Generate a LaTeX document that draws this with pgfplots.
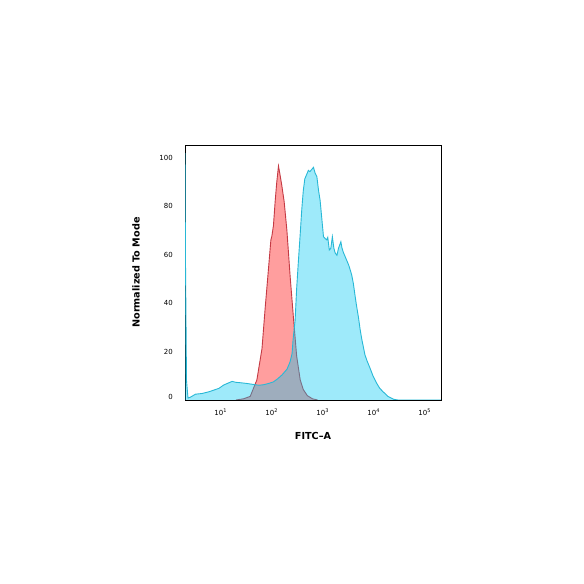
\documentclass[border=0pt]{standalone}
\usepackage{fontspec}
\setmainfont{DejaVu Sans}
\usepackage{pgfplots}
\usepackage{pgfplotstable}
\pgfplotsset{compat=1.18}
\definecolor{redfill}{RGB}{255,158,158}
\definecolor{redline}{RGB}{196,58,68}
\definecolor{bluefill}{RGB}{0,200,242}
\definecolor{blueline}{RGB}{40,184,214}
\pgfplotstableread{
x y
20 0
28.2 0.5
38 1.5
51.3 8.3
64.6 21.2
74.6 38
87.1 54.8
96.6 66.2
100.9 67.7
108.4 72.1
117.5 82.5
125.9 90
136.1 96.7
147.9 92.4
158.5 88.5
175.8 82
198.6 70.3
213.8 60.8
230.7 50.9
267.3 34
309 18.2
363.1 8.3
416.9 4.3
501.2 1.8
631 0.5
794 0
}\redtab
\pgfplotstableread{
x y
2.0 102
2.04 60
2.14 8
2.29 0.8
2.57 1.2
3.21 2.4
4.34 2.7
5.89 3.4
7.36 4.1
9.23 4.8
11.48 6.2
14.45 7.1
16.79 7.7
19.95 7.3
22.9 7.2
30.9 6.9
41.7 6.5
56.2 6.1
69.2 6.3
89.1 6.9
108.4 7.5
131.8 8.8
158.5 10.3
199.5 12.7
229.1 15.7
251.2 19.2
263 25
288.4 33
309 46
331.1 56
363.1 68.7
389 78.6
416.9 86.5
446.7 91.4
489.8 93.4
524.8 94.9
562.3 94.4
616.6 95.4
660.7 96.2
707.9 93.9
769.1 92.4
831.8 86.5
891.3 82.5
966 74.6
1038 67.5
1122 66.7
1202 66.2
1259 67.2
1349 62
1445 62.7
1549 67.5
1660 62.7
1758 60.8
1905 59.8
2042 62.7
2275 65.4
2399 62.7
2570 60.8
2884 58.3
3236 55.8
3467 53.8
3715 51.6
3981 48.4
4266 43.9
4571 39.5
5012 34.4
5433 29.1
5888 24.8
6310 21.7
6761 18.6
7413 16.2
8511 13.1
9772 9.8
11482 6.9
13183 4.8
15488 3.3
19055 1.5
24547 0.3
30000 0
208930 0
}\bluetab
\begin{document}
\begin{tikzpicture}
\fill[white] (0,0) rectangle (584bp,584bp);
\useasboundingbox (0,0) rectangle (584bp,584bp);
\begin{axis}[
  at={(185bp,184bp)}, anchor=south west,
  width=256bp, height=255bp, scale only axis,
  xmode=log, xmin=2.0, xmax=2.09e5, ymin=0, ymax=105.4,
  xtick={10,100,1000,10000,100000},
  xticklabels={10\textsuperscript{1},10\textsuperscript{2},10\textsuperscript{3},10\textsuperscript{4},10\textsuperscript{5}},
  minor xtick={},
  ytick={0,20,40,60,80,100},
  yticklabels={\raisebox{3.5bp}[\height][\depth]{0},20,40,60,80,100},
  major tick length=0pt, minor tick length=0pt,
  axis line style={line width=0.8pt},
  tick label style={font=\fontsize{7}{8}\selectfont},
  yticklabel style={xshift=-8.7bp},
  xticklabel style={yshift=-5.5bp},
  every axis x label/.style={at={(axis description cs:0.5,0)},anchor=north,yshift=-29bp,font=\fontsize{9.7}{11}\selectfont\bfseries},
  every axis y label/.style={at={(axis description cs:-0.1914,0.5)},rotate=90,anchor=center,font=\fontsize{9.7}{11}\selectfont\bfseries},
  xlabel={FITC–A},
  ylabel={Normalized To Mode},
  clip=true,
]
\addplot[fill=redfill, draw=none] table {\redtab} \closedcycle;
\addplot[draw=redline, line width=0.9pt] table {\redtab};
\addplot[fill=bluefill, fill opacity=0.38, draw=none] table {\bluetab} \closedcycle;
\addplot[draw=blueline, line width=0.9pt] table {\bluetab};
\end{axis}
\end{tikzpicture}
\end{document}
